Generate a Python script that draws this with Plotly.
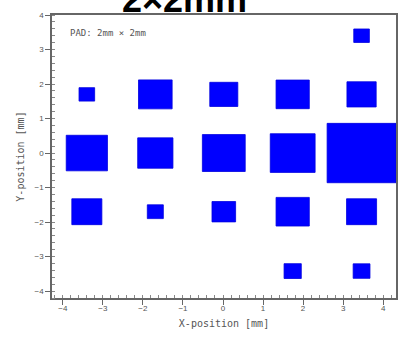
import plotly.graph_objects as go

# Pad centres (mm) and pad sizes (mm)
pad_x = [3.46,
         -3.40, -1.69, 0.02, 1.74, 3.46,
         -3.40, -1.69, 0.02, 1.74, 3.46,
         -3.40, -1.69, 0.02, 1.74, 3.46,
         1.74, 3.46]
pad_y = [3.40,
         1.70, 1.70, 1.70, 1.70, 1.70,
         0.0, 0.0, 0.0, 0.0, 0.0,
         -1.70, -1.70, -1.70, -1.70, -1.70,
         -3.42, -3.42]
pad_size = [0.39,
            0.39, 0.84, 0.70, 0.83, 0.73,
            1.03, 0.88, 1.07, 1.12, 1.72,
            0.75, 0.40, 0.59, 0.83, 0.75,
            0.43, 0.42]

tick_vals = [-4, -3, -2, -1, 0, 1, 2, 3, 4]
title_text = "2×2mm"
pad_label = "PAD: 2mm × 2mm"

# Build filled square polygons from centre + size
px, py = [], []
for cx, cy, s in zip(pad_x, pad_y, pad_size):
    h = s / 2
    px += [cx - h, cx + h, cx + h, cx - h, cx - h, None]
    py += [cy - h, cy - h, cy + h, cy + h, cy - h, None]

fig = go.Figure()
fig.add_trace(go.Scatter(x=px, y=py, mode="lines", fill="toself",
                         fillcolor="#0000FF", line=dict(color="#0000E0", width=0.8),
                         hoverinfo="skip", showlegend=False))

axis_common = dict(
    showline=True, linecolor="#666666", linewidth=1.5, mirror=True,
    ticks="outside", ticklen=5, tickcolor="#666666", tickwidth=1,
    tickvals=tick_vals, showgrid=False, zeroline=False,
    tickfont=dict(family="Liberation Sans", size=8, color="#555555"),
    minor=dict(ticks="inside", ticklen=3, dtick=0.2, tickcolor="#888888", showgrid=False),
)

fig.update_layout(
    width=403, height=346,
    margin=dict(l=52, r=5, t=15, b=48),
    paper_bgcolor="white", plot_bgcolor="white",
    xaxis=dict(range=[-4.27, 4.32],
               title=dict(text="X-position [mm]", standoff=8,
                          font=dict(family="DejaVu Sans Mono", size=10, color="#555555")),
               ticklabelstandoff=-3, **axis_common),
    yaxis=dict(range=[-4.2, 4.0],
               title=dict(text="Y-position [mm]", standoff=8,
                          font=dict(family="DejaVu Sans Mono", size=10, color="#555555")),
               **axis_common),
    annotations=[
        dict(text=f"<b>{title_text}</b>", xref="paper", yref="paper",
             x=0.385, y=1, xanchor="center", yanchor="bottom", yshift=-7,
             showarrow=False, font=dict(family="Liberation Sans", size=36, color="black")),
        dict(text=pad_label, xref="x", yref="y", x=-3.88, y=3.48,
             xanchor="left", yanchor="middle", showarrow=False,
             font=dict(family="DejaVu Sans Mono", size=9, color="#555555")),
    ],
)

fig.write_html("out.html")
